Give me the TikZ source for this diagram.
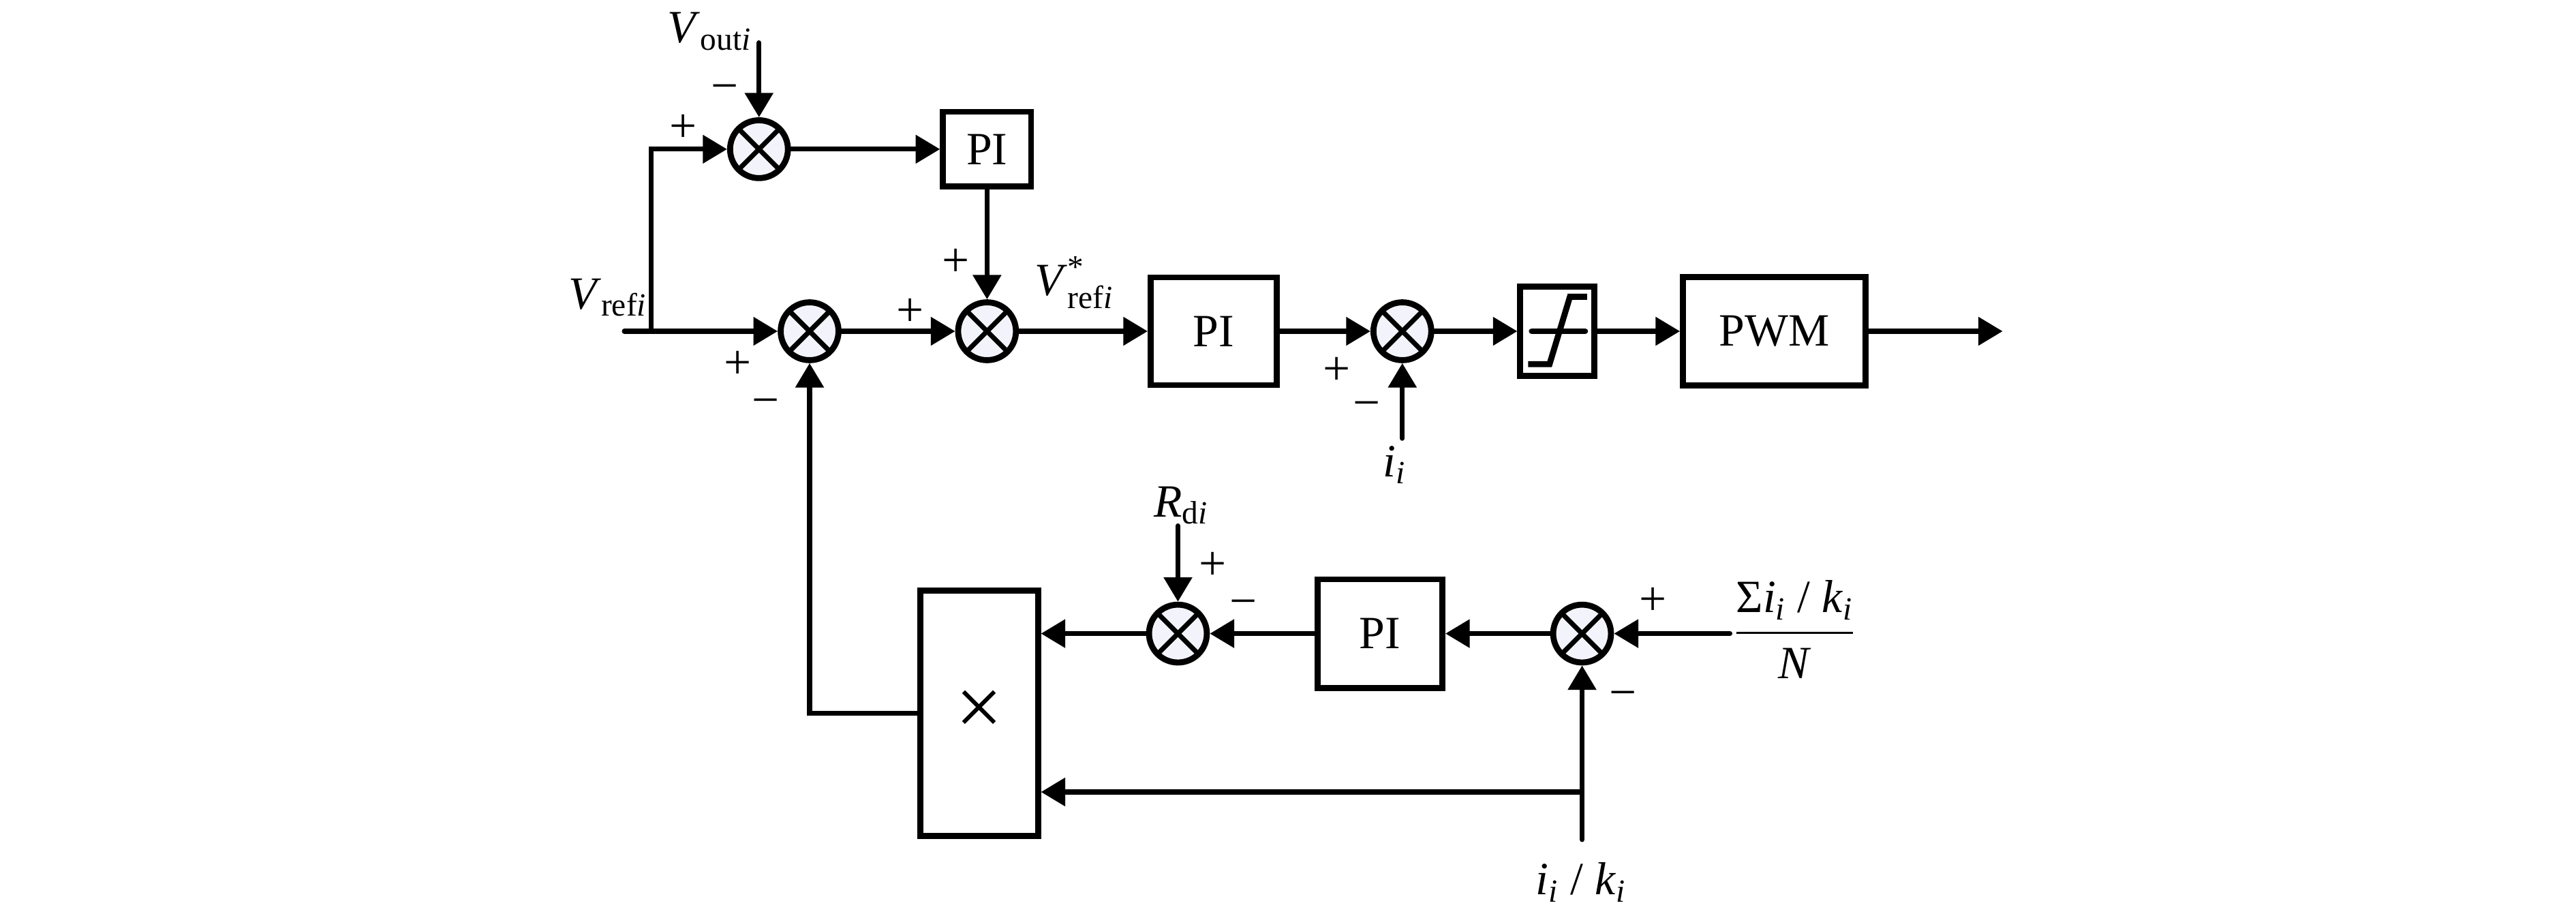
\documentclass[tikz,border=0pt]{standalone}
\usepackage{fontspec}
\setmainfont{Liberation Serif}
\usepackage{amsmath}
\usepackage{tikz}
\usetikzlibrary{arrows.meta, positioning}

\definecolor{sumfill}{RGB}{243,244,251}

\begin{document}
\begin{tikzpicture}[
  blk/.style={draw=black, line width=2.6pt, fill=white, inner sep=0pt, font=\fontsize{20}{24}\selectfont},
  sumnode/.style={circle, draw=black, line width=2.6pt, fill=sumfill, minimum size=0.88cm, inner sep=0pt,
    path picture={\draw[line width=2.1pt]
      (path picture bounding box.north west) -- (path picture bounding box.south east)
      (path picture bounding box.north east) -- (path picture bounding box.south west);}},
  sgn/.style={inner sep=0pt, font=\fontsize{21}{24}\selectfont},
  lbl/.style={inner sep=0pt, font=\fontsize{20}{24}\selectfont},
  arr/.style={-{Triangle[length=0.37cm, width=0.42cm]}, line width=2.1pt, line cap=round},
  wire/.style={line width=2.1pt, line cap=round}
]
  \useasboundingbox (0,0) rectangle (39.2,13.9);
  \def\ytop{11.63}
  \def\ymain{8.86}
  \def\ylow{4.26}
  \def\yfb{1.85}

  % Summing points
  \node[sumnode] (s1) at (11.55,\ytop) {};
  \node[sumnode] (s2) at (12.32,\ymain) {};
  \node[sumnode] (s3) at (15.02,\ymain) {};
  \node[sumnode] (s4) at (21.34,\ymain) {};
  \node[sumnode] (s5) at (17.925,\ylow) {};
  \node[sumnode] (s6) at (24.075,\ylow) {};

  % Blocks
  \node[blk, minimum width=1.34cm, minimum height=1.14cm] (pi1) at (15.02,\ytop) {PI};
  \node[blk, minimum width=1.92cm, minimum height=1.64cm] (pi2) at (18.47,\ymain) {PI};
  \node[blk, minimum width=1.13cm, minimum height=1.36cm] (sat) at (23.7,\ymain) {};
  \node[blk, minimum width=2.78cm, minimum height=1.65cm] (pwm) at (27.0,\ymain) {PWM};
  \node[blk, minimum width=1.9cm, minimum height=1.65cm] (pi3) at (21.0,\ylow) {PI};
  \node[blk, minimum width=1.79cm, minimum height=3.73cm, font=\fontsize{36}{40}\selectfont] (mult) at (14.9,3.05) {×};

  % Limiter symbol
  \draw[line width=2.6pt, line cap=round] ([xshift=-0.39cm]sat.center) -- ([xshift=0.42cm]sat.center);
  \draw[line width=2.6pt] ([shift={(-0.445,-0.5)}]sat.center) -- ([shift={(-0.12,-0.5)}]sat.center)
    -- ([shift={(0.19,0.525)}]sat.center) -- ([shift={(0.45,0.525)}]sat.center);

  % Free ends
  \coordinate (vin) at (9.5,\ymain);
  \coordinate (jn) at (9.91,\ymain);
  \coordinate (voin) at (11.55,13.25);
  \coordinate (iin) at (21.34,7.23);
  \coordinate (out) at (30.475,\ymain);
  \coordinate (rdin) at (17.925,5.9);
  \coordinate (avin) at (26.325,\ylow);
  \coordinate (ikin) at (24.075,1.125);
  \coordinate (fbj) at (24.075,\yfb);

  % Forward path
  \draw[arr] (vin) -- (s2.west);
  \draw[arr] (jn) |- (s1.west);
  \draw[arr] (voin) -- (s1.north);
  \draw[arr] (s1.east) -- (pi1.west);
  \draw[arr] (pi1.south) -- (s3.north);
  \draw[arr] (s2.east) -- (s3.west);
  \draw[arr] (s3.east) -- (pi2.west);
  \draw[arr] (pi2.east) -- (s4.west);
  \draw[arr] (iin) -- (s4.south);
  \draw[arr] (s4.east) -- (sat.west);
  \draw[arr] (sat.east) -- (pwm.west);
  \draw[arr] (pwm.east) -- (out);

  % Droop loop
  \draw[arr] (avin) -- (s6.east);
  \draw[arr] (s6.west) -- (pi3.east);
  \draw[arr] (pi3.west) -- (s5.east);
  \draw[arr] (rdin) -- (s5.north);
  \draw[arr] (s5.west) -- (s5.west -| mult.east);
  \draw[arr] (ikin) -- (s6.south);
  \draw[arr] (fbj) -- (fbj -| mult.east);
  \draw[arr] (mult.west) -| (s2.south);

  % Signs
  \foreach \x/\y/\t [count=\k] in {
      11.025/12.48/−, 10.4/11.95/+, 14.54/9.9/+, 13.85/9.15/+,
      11.225/8.35/+, 11.65/7.70/−, 20.34/8.25/+, 20.8/7.66/−,
      18.45/5.29/+, 18.92/4.64/−, 25.15/4.75/+, 24.7/3.25/−} {
    \node[sgn] (sg\k) at (\x,\y) {\t};
  }

  % Labels
  \node[lbl] (lvref) at (9.25,9.375) {\textit{V}\textsubscript{ref\textit{i}}};
  \node[lbl] (lvout) at (10.8,13.42) {\textit{V}\textsubscript{out\textit{i}}};
  \node[lbl] (lvstar) at (16.35,9.6) {$\text{\textit{V}}^{\text{*}}_{\text{ref\textit{i}}}$};
  \node[lbl] (lii) at (21.22,6.825) {\textit{i}\textsubscript{\textit{i}}};
  \node[lbl] (lrd) at (17.975,6.21) {\textit{R}\textsubscript{d\textit{i}}};
  \node[lbl] (lik) at (24.06,0.475) {\textit{i}\textsubscript{\textit{i}} / \textit{k}\textsubscript{\textit{i}}};
  \node[lbl] (lavg) at (27.31,4.27) {\renewcommand\arraystretch{1.15}\setlength\arrayrulewidth{1.1pt}%
    \begin{tabular}{@{}c@{}}Σ\textit{i}\textsubscript{\textit{i}} / \textit{k}\textsubscript{\textit{i}}\\\hline \textit{N}\end{tabular}};
\end{tikzpicture}
\end{document}
